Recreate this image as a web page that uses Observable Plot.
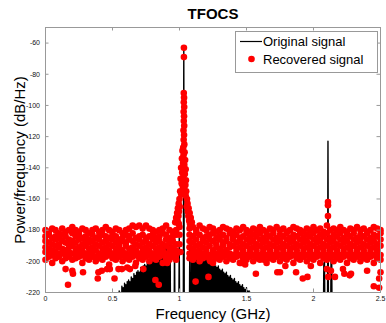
<!DOCTYPE html>
<html><head><meta charset="utf-8">
<script src="https://cdn.jsdelivr.net/npm/d3@7"></script>
<script src="https://cdn.jsdelivr.net/npm/@observablehq/plot@0.6"></script>
<style>
body{margin:0;background:#fff;font-family:"Liberation Sans",Arial,sans-serif;}
#wrap{position:relative;width:386px;height:323px;}
#legend{position:absolute;left:235px;top:31px;width:143px;height:42px;border:1px solid #999;background:#fff;box-sizing:border-box;}
#legend svg{position:absolute;left:-1px;top:-1px;}
</style></head>
<body><div id="wrap"></div>
<script>
const xTicks = [0, 0.5, 1, 1.5, 2, 2.5];
const yTicks = [-220, -200, -180, -160, -140, -120, -100, -80, -60];
const seriesNames = ["Original signal", "Recovered signal"];
const titleText = "TFOCS";
const xLabel = "Frequency (GHz)";
const yLabel = "Power/frequency (dB/Hz)";

// Original signal: spectral line tops "GHz dB"; between tops the trace drops below the axis
const belowAxisDb = -250;
const originalTops = [
 "0.55 -219","0.56 -220","0.57 -216","0.58 -217","0.59 -214","0.60 -215","0.61 -213","0.62 -212","0.63 -213","0.64 -210",
 "0.65 -211","0.66 -208","0.67 -209","0.68 -207","0.69 -206","0.70 -207","0.71 -204","0.72 -205","0.73 -203","0.74 -202",
 "0.75 -203","0.76 -200","0.77 -201","0.78 -199","0.79 -198","0.80 -199","0.81 -196","0.82 -197","0.83 -195","0.84 -194",
 "0.85 -195","0.86 -193","0.87 -193","0.88 -191","0.89 -190","0.90 -191","0.91 -189","0.92 -190","0.93 -188",
 "0.963 -186","0.998 -185","1.032 -63","1.077 -186",
 "1.09 -190","1.10 -192","1.11 -191","1.12 -193","1.13 -194","1.14 -193","1.15 -195","1.16 -196","1.17 -195","1.18 -197",
 "1.19 -198","1.20 -197","1.21 -199","1.22 -200","1.23 -199","1.24 -201","1.25 -202","1.26 -201","1.27 -203","1.28 -204",
 "1.29 -203","1.30 -205","1.31 -206","1.32 -205","1.33 -207","1.34 -208","1.35 -207","1.36 -209","1.37 -210","1.38 -209",
 "1.39 -211","1.40 -212","1.41 -211","1.42 -213","1.43 -214","1.44 -213","1.45 -215","1.46 -216","1.47 -215","1.48 -217",
 "1.49 -218","1.50 -217","1.51 -219","1.52 -219","1.53 -220",
 "2.077 -201","2.082 -196","2.108 -123","2.131 -196","2.136 -201"
];

// Recovered signal: noise floor columns "GHz dB dB dB ..."
const recoveredFloorLeft = [
 "0.000 -180 -184 -187 -191 -194 -199","0.025 -181 -183 -188 -192 -195 -197","0.050 -179 -185 -189 -193 -196 -201",
 "0.075 -180 -184 -186 -190 -194 -198","0.100 -182 -185 -189 -191 -195 -197","0.125 -179 -183 -187 -192 -195 -200",
 "0.150 -181 -184 -188 -193 -196 -198","0.175 -180 -186 -189 -191 -194 -197","0.200 -178 -182 -187 -190 -195 -199",
 "0.225 -180 -184 -188 -192 -196 -198","0.250 -181 -183 -186 -191 -194 -197","0.275 -179 -185 -189 -193 -196 -201",
 "0.300 -180 -184 -187 -190 -195 -198","0.325 -182 -186 -188 -192 -196 -199","0.350 -180 -183 -187 -191 -194 -197",
 "0.375 -179 -185 -189 -193 -197 -200","0.400 -181 -184 -186 -190 -195 -198","0.425 -180 -183 -188 -192 -196 -199",
 "0.450 -178 -184 -187 -191 -194 -197","0.475 -180 -185 -189 -193 -196 -202","0.500 -181 -183 -186 -190 -195 -198",
 "0.525 -179 -184 -188 -192 -196 -199","0.550 -180 -186 -189 -191 -194 -197","0.575 -182 -185 -187 -193 -196 -200",
 "0.600 -180 -183 -188 -190 -195 -198","0.625 -179 -184 -186 -192 -196 -199","0.650 -177 -182 -187 -191 -194 -197",
 "0.675 -178 -185 -189 -193 -196 -201","0.700 -177 -184 -186 -190 -195 -198","0.725 -179 -183 -188 -192 -196 -199",
 "0.750 -177 -185 -187 -191 -194 -197","0.775 -179 -184 -189 -193 -196 -200","0.800 -180 -183 -186 -190 -195 -198",
 "0.825 -181 -185 -188 -192 -196 -199","0.850 -180 -184 -187 -191 -194 -197","0.875 -179 -182 -189 -193 -196 -201",
 "0.900 -177 -183 -186 -190 -195 -198","0.925 -180 -185 -188 -192 -196 -199","0.950 -181 -184 -187 -191 -194 -197",
 "0.975 -180 -183 -189 -193 -196 -199"
];
const recoveredFloorRight = [
 "1.075 -179 -183 -187 -191 -195 -198","1.100 -178 -184 -188 -192 -196 -199","1.125 -180 -182 -186 -190 -194 -197",
 "1.150 -177 -183 -189 -193 -196 -200","1.175 -179 -185 -187 -191 -195 -198","1.200 -180 -184 -188 -192 -194 -197",
 "1.225 -178 -183 -186 -190 -196 -199","1.250 -179 -182 -187 -193 -196 -201","1.275 -181 -185 -189 -191 -195 -198",
 "1.300 -180 -184 -186 -192 -196 -199","1.325 -178 -183 -188 -190 -194 -197","1.350 -179 -185 -187 -193 -196 -200",
 "1.375 -180 -182 -189 -191 -195 -198","1.400 -181 -184 -186 -190 -196 -199","1.425 -179 -183 -188 -192 -194 -197",
 "1.450 -180 -185 -187 -191 -196 -201","1.475 -178 -184 -189 -193 -195 -198","1.500 -180 -182 -186 -190 -196 -199",
 "1.525 -181 -185 -188 -192 -194 -197","1.550 -179 -183 -187 -191 -196 -200","1.575 -180 -184 -189 -193 -195 -198",
 "1.600 -178 -182 -186 -190 -196 -199","1.625 -180 -185 -188 -192 -194 -197","1.650 -181 -183 -187 -191 -196 -201",
 "1.675 -179 -184 -189 -193 -195 -198","1.700 -180 -182 -186 -190 -196 -199","1.725 -178 -185 -188 -192 -194 -197",
 "1.750 -180 -183 -187 -191 -196 -200","1.775 -179 -184 -189 -193 -195 -198","1.800 -181 -182 -186 -190 -196 -199",
 "1.825 -180 -185 -188 -192 -194 -197","1.850 -178 -183 -187 -191 -196 -201","1.875 -179 -184 -189 -193 -195 -198",
 "1.900 -180 -182 -186 -190 -196 -199","1.925 -181 -185 -188 -192 -194 -197","1.950 -179 -183 -187 -191 -196 -200",
 "1.975 -180 -184 -189 -193 -195 -198","2.000 -178 -182 -186 -190 -196 -199","2.025 -180 -185 -188 -192 -194 -197",
 "2.050 -179 -183 -187 -191 -196 -201","2.075 -181 -184 -189 -193 -195 -198","2.100 -177 -182 -186 -190 -196 -199",
 "2.125 -180 -185 -188 -192 -194 -197","2.150 -179 -183 -187 -191 -196 -200","2.175 -180 -184 -189 -193 -195 -198",
 "2.200 -178 -182 -186 -190 -196 -199","2.225 -180 -185 -188 -192 -194 -197","2.250 -181 -183 -187 -191 -196 -201",
 "2.275 -179 -184 -189 -193 -195 -198","2.300 -180 -182 -186 -190 -196 -199","2.325 -178 -185 -188 -192 -194 -197",
 "2.350 -180 -183 -187 -191 -196 -200","2.375 -179 -184 -189 -193 -195 -198","2.400 -181 -182 -186 -190 -196 -199",
 "2.425 -180 -185 -188 -192 -194 -197","2.450 -178 -183 -187 -191 -196 -201","2.475 -179 -184 -189 -193 -195 -198",
 "2.500 -180 -182 -186 -190 -196 -199"
];
// Recovered signal around the 1.03 GHz tone: "GHz dB"
const recoveredPeak = [
 "1.033 -63","1.033 -69","1.032 -92","1.034 -95","1.032 -98","1.035 -101","1.031 -104","1.034 -107","1.032 -110",
 "1.035 -113","1.030 -116","1.034 -119","1.031 -122","1.036 -125","1.028 -127",
 "1.022 -129","1.038 -130","1.030 -132","1.018 -134","1.042 -135","1.026 -137","1.036 -138","1.012 -140","1.046 -141",
 "1.020 -143","1.040 -144","1.030 -145","1.008 -147","1.048 -148","1.016 -150","1.044 -151","1.025 -152","1.035 -153",
 "1.005 -155","1.050 -155","1.013 -157","1.046 -158",
 "1.000 -160","0.994 -163","1.002 -165","0.988 -166","0.996 -168","0.982 -169","0.992 -171","0.975 -172","0.986 -174",
 "0.968 -175","0.995 -176",
 "1.056 -160","1.060 -163","1.054 -165","1.068 -166","1.062 -168","1.076 -169","1.066 -171","1.084 -172","1.072 -174",
 "1.092 -175","1.078 -176",
 "1.000 -178","1.000 -183","1.000 -189","1.000 -194"
];
// Recovered signal on the 2.11 GHz tone and scattered low points: "GHz dB"
const recoveredTone2 = ["2.108 -162","2.108 -164","2.108 -171"];
const recoveredStray = [
 "0.150 -205","0.168 -215","0.200 -206","0.205 -208","0.280 -207","0.390 -211","0.395 -207","0.420 -206","0.460 -205",
 "0.480 -205","0.515 -211","0.545 -205","0.570 -205","0.610 -204","0.630 -205","0.670 -203","0.730 -205","0.820 -212",
 "0.845 -215","0.908 -201","1.007 -194","1.100 -195","1.120 -213","1.150 -198","1.216 -210","1.230 -200","1.250 -200",
 "1.460 -201","1.490 -202","1.570 -208","1.630 -199","1.730 -207","1.750 -207","1.790 -203","1.870 -207","1.920 -211",
 "1.955 -210","1.980 -203","2.100 -205","2.110 -210","2.130 -206","2.160 -210","2.220 -205","2.230 -208","2.270 -209",
 "2.280 -208","2.400 -206","2.450 -216","2.490 -217","2.490 -211","2.500 -207"
];

// ---- build tables ----
const parsePairs = arr => arr.map(s => { const [f, p] = s.trim().split(/\s+/).map(Number); return {f, p}; });
const parseColumns = arr => arr.flatMap(s => { const [f, ...ps] = s.trim().split(/\s+/).map(Number); return ps.map(p => ({f, p})); });

const original = [];
original.push({f: 0, p: belowAxisDb});
for (const {f, p} of parsePairs(originalTops)) {
  original.push({f: f - 0.004, p: belowAxisDb});
  original.push({f, p});
  original.push({f: f + 0.004, p: belowAxisDb});
}
original.push({f: 2.5, p: belowAxisDb});

const recovered = [
  ...parseColumns(recoveredFloorLeft),
  ...parseColumns(recoveredFloorRight),
  ...parsePairs(recoveredPeak),
  ...parsePairs(recoveredTone2),
  ...parsePairs(recoveredStray)
];

const frameColor = "#999";
const chart = Plot.plot({
  width: 386, height: 323,
  marginLeft: 45, marginRight: 6, marginTop: 27, marginBottom: 31,
  style: {fontFamily: "'Liberation Sans', Arial, sans-serif", background: "white", color: "#111"},
  x: {domain: [0, 2.5]},
  y: {domain: [-220, -50]},
  marks: [
    Plot.line(original, {x: "f", y: "p", stroke: "black", strokeWidth: 1.4, clip: true}),
    Plot.dot(recovered, {x: "f", y: "p", r: 3.3, fill: "#ff0000"}),
    Plot.frame({stroke: frameColor}),
    Plot.tickY(yTicks, {y: d => d, stroke: frameColor, insetRight: 331.5}),
    Plot.tickY(yTicks, {y: d => d, stroke: frameColor, insetLeft: 331.5}),
    Plot.tickX(xTicks, {x: d => d, stroke: frameColor, insetTop: 261.5}),
    Plot.tickX(xTicks, {x: d => d, stroke: frameColor, insetBottom: 261.5}),
    Plot.axisX(xTicks, {anchor: "bottom", tickSize: 0, tickPadding: 4, fontSize: 7, tickFormat: d => String(d), label: null}),
    Plot.axisY(yTicks, {anchor: "left", tickSize: 0, tickPadding: 5.5, fontSize: 7, tickFormat: d => String(d), label: null}),
    Plot.text([titleText], {text: d => d, frameAnchor: "top", textAnchor: "middle", lineAnchor: "middle", dy: -13.5, fontSize: 15, fontWeight: "bold", fill: "black"}),
    Plot.text([xLabel], {text: d => d, frameAnchor: "bottom", textAnchor: "middle", lineAnchor: "middle", dy: 21.5, fontSize: 15, fill: "black"}),
    Plot.text([yLabel], {text: d => d, frameAnchor: "left", textAnchor: "middle", lineAnchor: "middle", dx: -25.5, rotate: -90, fontSize: 15, fill: "black"})
  ]
});
const wrap = document.getElementById("wrap");
wrap.appendChild(chart);

// legend
const legend = document.createElement("div");
legend.id = "legend";
legend.innerHTML = `<svg width="143" height="42" font-family="'Liberation Sans', Arial, sans-serif" font-size="13">
  <line x1="5" y1="10.5" x2="27" y2="10.5" stroke="black" stroke-width="1.2"/>
  <text x="28" y="15.2" fill="black">${seriesNames[0]}</text>
  <circle cx="16.5" cy="28" r="3.3" fill="#ff0000"/>
  <text x="28" y="32.7" fill="black">${seriesNames[1]}</text>
</svg>`;
wrap.appendChild(legend);
</script>
</body></html>
